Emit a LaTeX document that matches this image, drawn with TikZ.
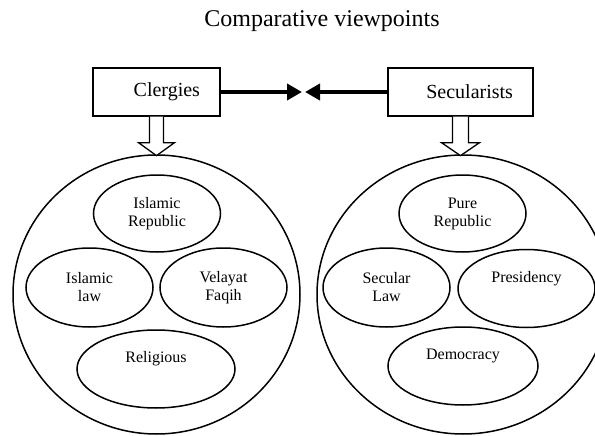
\documentclass[tikz,border=0pt]{standalone}
\usepackage{fontspec}
\setmainfont{Liberation Serif}
\usetikzlibrary{shapes.geometric,arrows.meta,calc}
\begin{document}
\begin{tikzpicture}[x=1pt,y=-1pt,
  tbox/.style={draw, line width=1.3pt, minimum height=48pt, inner xsep=20pt, align=right, font=\fontsize{20}{24}\selectfont},
  fat/.style={line width=4pt, -{Triangle[length=15pt,width=16pt]}},
  hollow/.style={draw, fill=white, line width=1.3pt, line join=miter},
  outer/.style={ellipse, draw, line width=1.5pt, inner sep=0pt},
  inner/.style={ellipse, draw, line width=1.5pt, inner sep=0pt, align=center, font=\fontsize{16}{18}\selectfont}]
\useasboundingbox (0,0) rectangle (595,436);
\clip (0,0) rectangle (595,436);
% title
\node[font=\fontsize{24}{28}\selectfont, anchor=base] (title) at (322,27) {Comparative viewpoints};
% boxes
\node[tbox, text width=87pt] (clergies) at (156.5,92) {Clergies};
\node[tbox, text width=105pt] (secular) at (460.5,92) {Secularists};
% arrows between boxes
\coordinate (m1) at (302,92);
\coordinate (m2) at (305,92);
\draw[fat] (clergies.east) -- (m1);
\draw[fat] (secular.west) -- (m2);
% outer circles
\node[outer, minimum width=287pt, minimum height=279pt] (lc) at (156.5,294.5) {};
\node[outer, minimum width=292pt, minimum height=279pt] (rc) at (463,294.5) {};
% block arrows
\draw[hollow] ($(clergies.south)+(-7,0)$) -- ++(0,26) -- ++(-11,0) -- ($(clergies.south)+(0,39)$) -- ($(clergies.south)+(18,26)$) -- ++(-11,0) -- ($(clergies.south)+(7,0)$);
\draw[hollow] ($(secular.south)+(-8,0)$) -- ++(0,26) -- ++(-11,0) -- ($(secular.south)+(0,39)$) -- ($(secular.south)+(19,26)$) -- ++(-11,0) -- ($(secular.south)+(8,0)$);
% left inner
\node[inner, minimum width=127pt, minimum height=77pt] (ir) at (157,213.5) {Islamic\\Republic};
\node[inner, minimum width=127pt, minimum height=79pt] (il) at (89.5,287.5) {Islamic\\law};
\node[inner, minimum width=127pt, minimum height=79pt] (vf) at (223.5,287.5) {Velayat\\Faqih};
\node[inner, minimum width=158pt, minimum height=78pt] (rel) at (156,369) {Religious\\\strut};
% right inner
\node[inner, minimum width=127pt, minimum height=77pt] (pr) at (462.5,213.5) {Pure\\Republic};
\node[inner, minimum width=127pt, minimum height=79pt] (sl) at (386.5,287.5) {Secular\\Law};
\node[inner, minimum width=137pt, minimum height=78pt] (pres) at (526.5,288.5) {Presidency\\\strut};
\node[inner, minimum width=150pt, minimum height=78pt] (dem) at (463,366) {Democracy\\\strut};
\end{tikzpicture}
\end{document}
